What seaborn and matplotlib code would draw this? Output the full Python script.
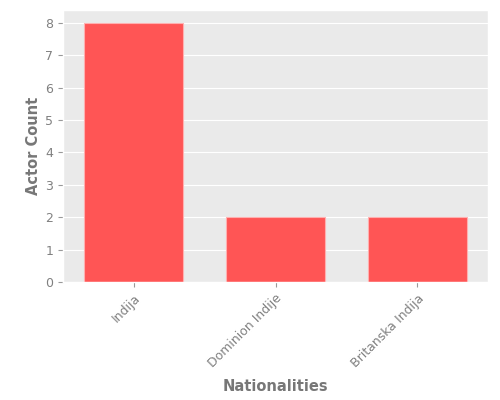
import pandas as pd
import seaborn as sns
import matplotlib.pyplot as plt

nationalities = ["Indija", "Dominion Indije", "Britanska Indija"]
counts = [8, 2, 2]

plt.style.use("ggplot")
df = pd.DataFrame({"Nationalities": nationalities, "Actor Count": counts})

fig, ax = plt.subplots(figsize=(5, 4), dpi=100)
ax.set_facecolor("#EAEAEA")
sns.barplot(data=df, x="Nationalities", y="Actor Count", color="#FF5555",
            saturation=1, width=0.7, edgecolor="#FFB0B0", linewidth=0.8, ax=ax)
ax.set_xlabel("Nationalities", color="#777777", fontsize=10.5, fontweight="bold", labelpad=6)
ax.set_ylabel("Actor Count", color="#777777", fontsize=10.5, fontweight="bold", labelpad=3)
ax.tick_params(colors="#999999", labelcolor="#808080", labelsize=9)
plt.xticks(rotation=45, ha="right", rotation_mode="anchor")
ax.set_ylim(0, 8.4)
ax.grid(axis="x", visible=False)
fig.subplots_adjust(left=0.126, right=0.976, top=0.975, bottom=0.295)
plt.savefig("out.png")
